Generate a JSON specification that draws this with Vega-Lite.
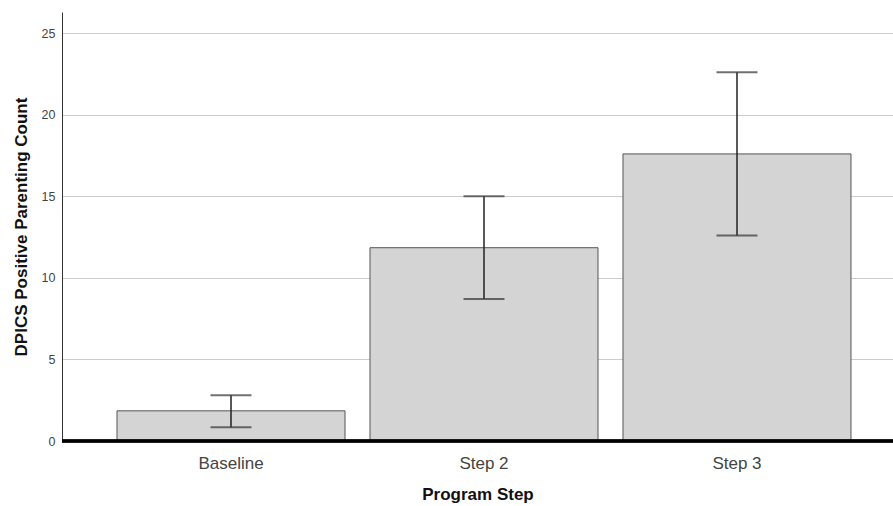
{
  "$schema": "https://vega.github.io/schema/vega-lite/v6.json",
  "width": 831,
  "height": 429,
  "autosize": {"type": "none"},
  "padding": {"left": 62, "top": 12, "right": 0, "bottom": 65},
  "background": "white",
  "config": {
    "view": {"stroke": null},
    "font": "Liberation Sans"
  },
  "data": {
    "values": [
      {"step": "Baseline", "mean": 1.85, "lo": 0.85, "hi": 2.8},
      {"step": "Step 2", "mean": 11.85, "lo": 8.7, "hi": 15.0},
      {"step": "Step 3", "mean": 17.6, "lo": 12.6, "hi": 22.6}
    ]
  },
  "encoding": {
    "x": {
      "field": "step",
      "type": "nominal",
      "sort": null,
      "scale": {"paddingInner": 0.0988, "paddingOuter": 0.1917, "align": 0.567},
      "axis": {
        "title": "Program Step",
        "titleFontSize": 17,
        "titleFontWeight": "bold",
        "titleColor": "#111",
        "titlePadding": 15,
        "labelAngle": 0,
        "labelFontSize": 17,
        "labelColor": "#444",
        "labelPadding": 14,
        "ticks": false,
        "domain": false,
        "grid": false
      }
    }
  },
  "layer": [
    {
      "mark": {"type": "bar", "fill": "#d4d4d4", "stroke": "#555", "strokeWidth": 1},
      "encoding": {
        "y": {
          "field": "mean",
          "type": "quantitative",
          "scale": {"domain": [0, 26.3], "nice": false},
          "axis": {
            "title": "DPICS Positive Parenting Count",
            "titleFontSize": 17,
            "titleFontWeight": "bold",
            "titleColor": "#111",
            "titlePadding": 11,
            "values": [0, 5, 10, 15, 20, 25],
            "labelFontSize": 12.5,
            "labelColor": "#444",
            "labelPadding": 7,
            "ticks": false,
            "domainColor": "#333",
            "domainWidth": 1,
            "gridColor": "#cccccc",
            "gridWidth": 1
          }
        }
      }
    },
    {
      "mark": {"type": "rule", "color": "#222", "strokeWidth": 1.5},
      "encoding": {
        "y": {"field": "lo", "type": "quantitative"},
        "y2": {"field": "hi"}
      }
    },
    {
      "mark": {"type": "tick", "color": "#333", "size": 41, "thickness": 2, "orient": "horizontal"},
      "encoding": {"y": {"field": "lo", "type": "quantitative"}}
    },
    {
      "mark": {"type": "tick", "color": "#333", "size": 41, "thickness": 2, "orient": "horizontal"},
      "encoding": {"y": {"field": "hi", "type": "quantitative"}}
    },
    {
      "mark": {"type": "rule", "color": "#000", "strokeWidth": 3},
      "encoding": {"y": {"datum": 0, "type": "quantitative"}, "x": {"value": 0}, "x2": {"value": 831}}
    }
  ]
}
